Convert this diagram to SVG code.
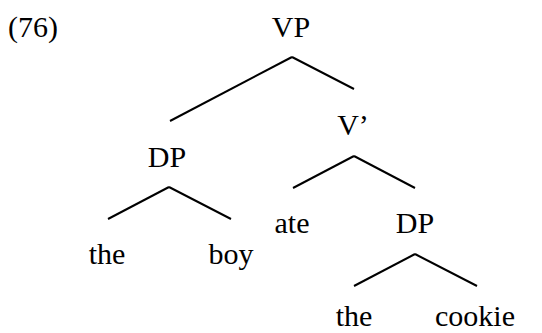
<svg xmlns="http://www.w3.org/2000/svg" width="542" height="333" viewBox="0 0 542 333">
<style>
text{font-family:"Liberation Serif","Times New Roman",serif;font-size:30px;fill:#000;text-anchor:middle}
line{stroke:#000;stroke-width:2;stroke-linecap:butt}
</style>
<rect width="542" height="333" fill="#fff"/>
<text id="label" x="33" y="37">(76)</text>
<g id="connectors">
<line x1="292" y1="57" x2="170" y2="121"/>
<line x1="292" y1="57" x2="354" y2="89"/>
<line x1="169" y1="187" x2="108" y2="219"/>
<line x1="169" y1="187" x2="231" y2="219"/>
<line x1="354" y1="156" x2="293" y2="188"/>
<line x1="354" y1="156" x2="415" y2="188"/>
<line x1="415" y1="254" x2="354" y2="286"/>
<line x1="415" y1="254" x2="477" y2="286"/>
</g>
<g id="vp"><text x="291" y="37">VP</text></g>
<g id="dp1"><text x="167" y="167">DP</text></g>
<g id="vbar"><text x="353" y="135">V’</text></g>
<g id="the1"><text x="107" y="264">the</text></g>
<g id="boy"><text x="231" y="264">boy</text></g>
<g id="ate"><text x="292" y="233">ate</text></g>
<g id="dp2"><text x="415" y="233">DP</text></g>
<g id="the2"><text x="354" y="326">the</text></g>
<g id="cookie"><text x="475" y="326">cookie</text></g>
</svg>
